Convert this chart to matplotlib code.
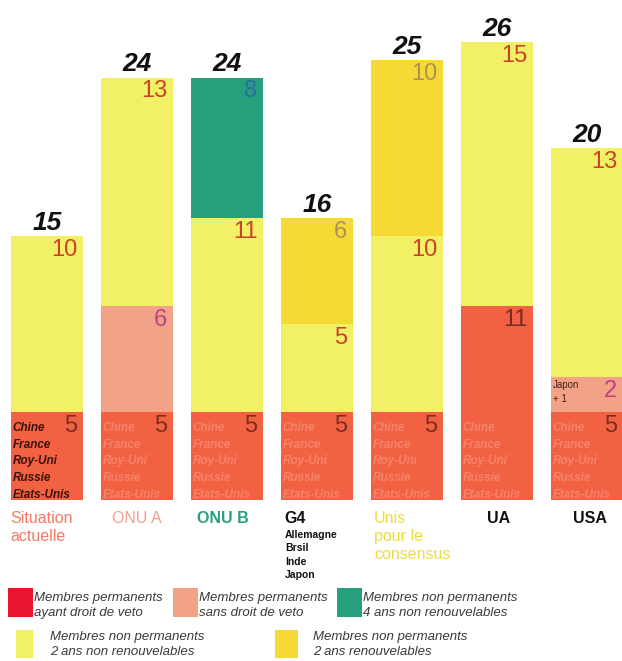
import matplotlib
matplotlib.use('Agg')
import matplotlib.pyplot as plt
from matplotlib.patches import Rectangle
import numpy as np

plt.rcParams['font.family'] = ['Liberation Sans', 'DejaVu Sans']

# ---------------- data ----------------
categories = ['Situation actuelle', 'ONU A', 'ONU B', 'G4',
              'Unis pour le consensus', 'UA', 'USA']
cat_labels = ['Situation\nactuelle', 'ONU A', 'ONU B', 'G4',
              'Unis\npour le\nconsensus', 'UA', 'USA']
perm_veto = [5, 5, 5, 5, 5, 11, 5]
perm_sans_veto = [0, 6, 0, 0, 0, 0, 2]
non_perm_2ans_nonrenouv = [10, 13, 11, 5, 10, 15, 13]
non_perm_2ans_renouv = [0, 0, 0, 6, 10, 0, 0]
non_perm_4ans = [0, 0, 8, 0, 0, 0, 0]
membres_permanents = ['Chine', 'France', 'Roy-Uni', 'Russie', 'Etats-Unis']
g4_pays = ['Allemagne', 'Brsil', 'Inde', 'Japon']
usa_extra = 'Japon\n+ 1'
legend_labels = ['Membres permanents\nayant droit de veto',
                 'Membres permanents\nsans droit de veto',
                 'Membres non permanents\n4 ans non renouvelables',
                 'Membres non permanents\n2 ans non renouvelables',
                 'Membres non permanents\n2 ans renouvelables']

# ---------------- styles ----------------
C_VETO = '#f26142'
C_SANS = '#f1a287'
C_4ANS = '#25a07c'
C_2NR = '#f2f064'
C_2R = '#f5d935'
C_LEG_VETO = '#e8162e'

series = [
    (perm_veto, C_VETO, '#7a2e22'),
    (perm_sans_veto, C_SANS, '#c43c8c'),
    (non_perm_2ans_nonrenouv, C_2NR, '#c8432a'),
    (non_perm_2ans_renouv, C_2R, '#ad9257'),
    (non_perm_4ans, C_4ANS, '#2a6fa0'),
]

W, H = 622, 661
PX = 72.0 / 100.0  # px -> points

fig = plt.figure(figsize=(W / 100, H / 100), dpi=100)
ax = fig.add_axes([0, 161 / H, 1, 492.8 / H])
ax.set_xlim(-47 / 90, (622 - 47) / 90)
ax.set_ylim(0, 28)
ax.axis('off')

x = np.arange(len(categories))
bw = 0.8
bottom = np.zeros(len(categories))
for vals, col, lcol in series:
    vals = np.array(vals, dtype=float)
    ax.bar(x, vals, bottom=bottom, width=bw, color=col, edgecolor='none',
           clip_on=False)
    for i, v in enumerate(vals):
        if v > 0:
            ax.annotate(str(int(v)), xy=(x[i] + bw / 2, bottom[i] + v),
                        xytext=(-4, -2), textcoords='offset points',
                        ha='right', va='top', fontsize=17, color=lcol,
                        annotation_clip=False)
    bottom += vals

totals = bottom
for i, t in enumerate(totals):
    ax.annotate(str(int(t)), xy=(x[i], t), xytext=(0, 1),
                textcoords='offset points', ha='center', va='bottom',
                fontsize=19, fontweight='bold', fontstyle='italic',
                color='#111111', annotation_clip=False)

# names of permanent members in red segments
for i in range(len(categories)):
    col = '#3a1408' if i == 0 else '#f4846a'
    for k, name in enumerate(membres_permanents):
        ax.annotate(name, xy=(x[i] - bw / 2, 0),
                    xytext=(1.5 * PX, (72 - k * 16.7) * PX),
                    textcoords='offset points', ha='left', va='center',
                    fontsize=8.5, fontstyle='italic', fontweight='bold',
                    color=col, annotation_clip=False)

# USA extra text in salmon segment
ax.annotate(usa_extra, xy=(x[6] - bw / 2, perm_veto[6] + perm_sans_veto[6]),
            xytext=(2 * PX, -3 * PX), textcoords='offset points',
            ha='left', va='top', fontsize=7, color='#4a2018',
            linespacing=1.5, annotation_clip=False)

# category labels
cat_style = [
    dict(color='#f47a64', ha='left', dx=-1, weight='normal'),
    dict(color='#f0a08a', ha='center', dx=0, weight='normal'),
    dict(color='#2a9f80', ha='center', dx=-4, weight='bold'),
    dict(color='#111111', ha='left', dx=3, weight='bold'),
    dict(color='#f0dc3c', ha='left', dx=3, weight='normal'),
    dict(color='#111111', ha='center', dx=2, weight='bold'),
    dict(color='#111111', ha='center', dx=3, weight='bold'),
]
for i, lab in enumerate(cat_labels):
    st = cat_style[i]
    xx = x[i] - bw / 2 if st['ha'] == 'left' else x[i]
    ax.annotate(lab, xy=(xx, 0), xytext=(st['dx'] * PX, -11 * PX),
                textcoords='offset points', ha=st['ha'], va='top',
                fontsize=11.5, color=st['color'], fontweight=st['weight'],
                linespacing=1.25, annotation_clip=False)

for k, p in enumerate(g4_pays):
    ax.annotate(p, xy=(x[3] - bw / 2, 0), xytext=(4 * PX, -(35 + k * 13.4) * PX),
                textcoords='offset points', ha='left', va='center',
                fontsize=7.5, fontweight='bold', color='#111111',
                annotation_clip=False)

# ---------------- legend (pixel overlay) ----------------
lax = fig.add_axes([0, 0, 1, 1])
lax.set_xlim(0, W)
lax.set_ylim(H, 0)
lax.axis('off')
lax.patch.set_alpha(0)

leg_items = [
    (C_LEG_VETO, 8, 588, 25, 29, 34, 598),
    (C_SANS, 173, 588, 25, 29, 199, 598),
    (C_4ANS, 337, 588, 25, 29, 363, 598),
    (C_2NR, 16, 630, 17, 28, 50, 637),
    (C_2R, 275, 630, 23, 28, 313, 637),
]
for (col, rx, ry, rw, rh, tx, ty), lab in zip(leg_items, legend_labels):
    lax.add_patch(Rectangle((rx, ry), rw, rh, color=col, lw=0))
    l1, l2 = lab.split('\n')
    lax.text(tx, ty, l1, ha='left', va='center', fontsize=9.5,
             fontstyle='italic', color='#3a3a3a')
    lax.text(tx, ty + 15, l2, ha='left', va='center', fontsize=9.5,
             fontstyle='italic', color='#3a3a3a')

fig.savefig('out.png', dpi=100, facecolor='white')
